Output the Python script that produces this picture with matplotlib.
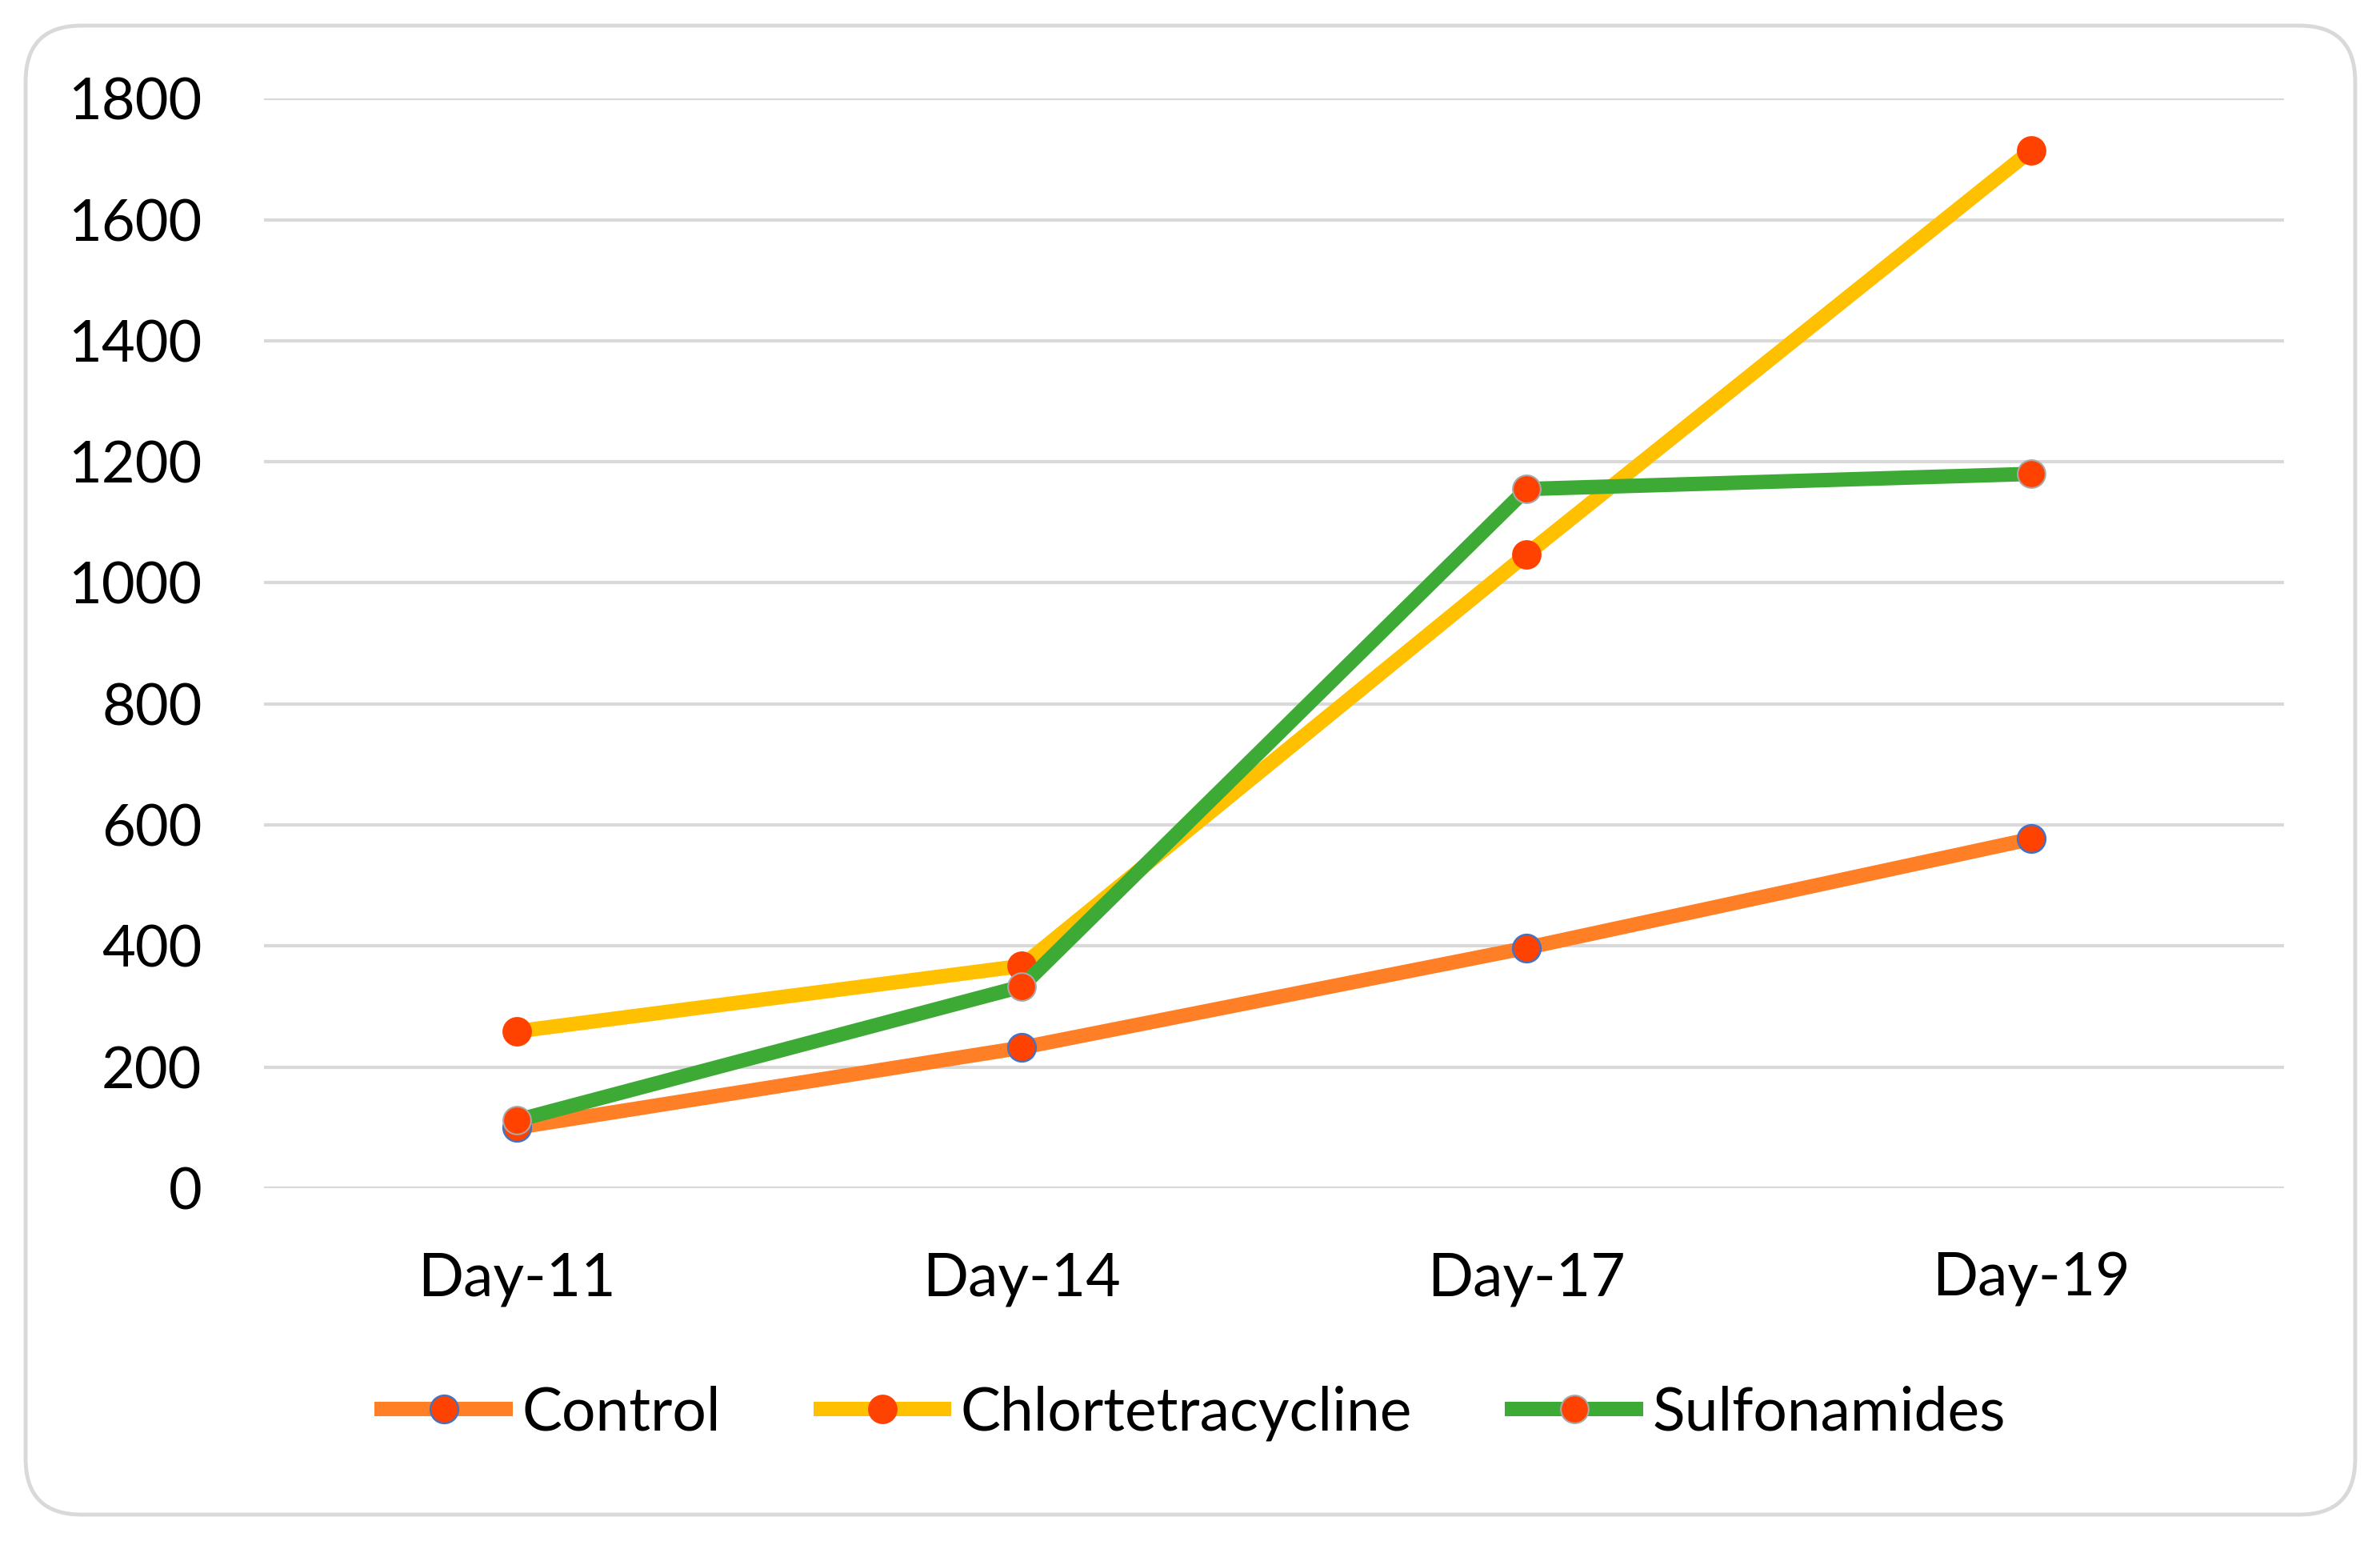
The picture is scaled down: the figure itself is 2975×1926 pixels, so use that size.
import matplotlib
matplotlib.use('Agg')
import matplotlib.pyplot as plt
from matplotlib.patches import FancyBboxPatch

# Values
days = ['Day-11', 'Day-14', 'Day-17', 'Day-19']
control = [100, 232, 397, 577]
chlortetracycline = [259, 367, 1047, 1715]
sulfonamides = [112, 333, 1155, 1180]
y_ticks = [0, 200, 400, 600, 800, 1000, 1200, 1400, 1600, 1800]

plt.rcParams['font.family'] = ['Lato', 'DejaVu Sans']

fig = plt.figure(figsize=(29.75, 19.26), dpi=100)
ax = fig.add_axes([0.111, 0.229, 0.8487, 0.707])

# Rounded outer frame
frame = FancyBboxPatch((0.32, 0.33), 29.12, 18.61,
                       boxstyle='round,pad=0,rounding_size=0.7',
                       transform=fig.dpi_scale_trans, facecolor='white',
                       edgecolor='#D9D9D9', linewidth=3.5, zorder=-10)
fig.patches.append(frame)

x = list(range(len(days)))
marker_face = '#FF4200'
ax.plot(x, control, color='#FF7F27', linewidth=13, marker='o', markersize=25,
        markerfacecolor=marker_face, markeredgecolor='#4472C4', markeredgewidth=1.8,
        label='Control', solid_capstyle='butt', zorder=3)
ax.plot(x, chlortetracycline, color='#FFC000', linewidth=13, marker='o', markersize=25,
        markerfacecolor=marker_face, markeredgecolor=marker_face, markeredgewidth=1.5,
        label='Chlortetracycline', solid_capstyle='butt', zorder=4)
ax.plot(x, sulfonamides, color='#3DAA35', linewidth=13, marker='o', markersize=25,
        markerfacecolor=marker_face, markeredgecolor='#A8A8A8', markeredgewidth=1.5,
        label='Sulfonamides', solid_capstyle='butt', zorder=5)

ax.set_xlim(-0.5, 3.5)
ax.set_ylim(0, 1800)
ax.set_xticks(x)
ax.set_xticklabels(days)
ax.set_yticks(y_ticks)
ax.tick_params(axis='y', length=0, pad=56, labelsize=52)
ax.tick_params(axis='x', length=0, pad=57, labelsize=54)
ax.grid(axis='y', color='#D9D9D9', linewidth=3)
ax.set_axisbelow(True)
for side in ['top', 'right', 'left', 'bottom']:
    ax.spines[side].set_visible(False)
ax.patch.set_alpha(0)

fig.legend(loc='center', bbox_to_anchor=(0.5, 0.083), ncol=3, frameon=False,
           fontsize=54, handlelength=2.3, handletextpad=0.15, columnspacing=1.55)

plt.savefig('out.png', dpi=100)
plt.close()
